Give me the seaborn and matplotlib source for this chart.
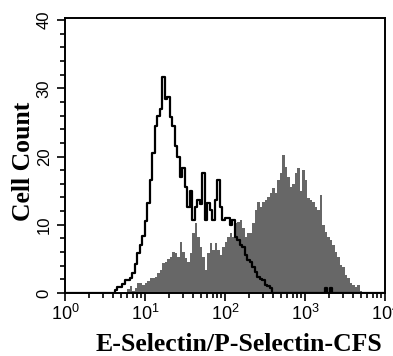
import numpy as np
import matplotlib
matplotlib.use("Agg")
import matplotlib.pyplot as plt
import matplotlib.ticker as mticker
import seaborn as sns

# histogram channels: 32 bins per decade from 10^0 to 10^4 (log10 edges)
bin_edges = np.linspace(0, 4, 129)

# isotype control (black outline), counts per bin
iso_counts = [0] * 20 + [
    0.5, 0.9, 0.9, 1.3, 1.9, 1.9, 2.2, 2.9, 4.2, 5.8,
    7.0, 8.3, 10.5, 13.2, 16.5, 20.5, 24.5, 26.0, 27.0, 31.6,
    28.5, 28.7, 25.8, 24.5, 21.5, 20.0, 17.0, 18.3, 15.5, 12.6,
    15.0, 10.7, 12.6, 13.6, 13.0, 17.6, 10.7, 13.2, 12.2, 10.7,
    13.6, 16.5, 12.6, 10.7, 11.0, 11.0, 10.0, 10.7, 8.2, 7.8,
    7.0, 6.7, 5.6, 4.8, 4.5, 3.8, 3.1, 2.3, 2.0, 1.9,
    1.2, 1.0, 0.8, 0, 0, 0, 0, 0, 0, 0,
    0, 0, 0, 0, 0, 0, 0, 0, 0, 0,
    0, 0, 0, 0, 0.8, 0, 0.8, 0, 0, 0,
] + [0] * 18

# E-Selectin/P-Selectin stained sample (grey fill)
sel_counts = [0] * 25 + [
    0.6, 1.0, 0.3, 0.8, 1.5, 1.5, 1.2, 1.5, 1.8, 2.2,
    2.2, 2.4, 3.0, 3.4, 4.4, 4.5, 5.0, 5.3, 6.0, 5.8,
    5.3, 7.5, 6.0, 5.1, 4.5, 5.8, 8.8, 10.2, 8.2, 6.7,
    5.3, 3.4, 5.8, 7.3, 6.3, 7.3, 6.3, 5.6, 6.7, 7.5,
    8.2, 8.8, 8.2, 10.2, 10.4, 10.7, 9.5, 8.2, 8.8, 8.8,
    10.2, 12.2, 13.3, 12.6, 13.3, 13.6, 14.0, 14.6, 15.4, 14.6,
    16.5, 17.6, 20.2, 18.5, 17.0, 15.5, 16.0, 17.6, 18.3, 15.0,
    18.0, 16.5, 13.9, 13.6, 13.3, 12.6, 12.2, 14.3, 10.0, 9.0,
    8.2, 7.8, 7.0, 6.0, 5.3, 4.1, 3.8, 2.7, 2.2, 1.5,
    1.2, 0.9, 1.2, 0.3,
] + [0] * 9

centers = 10 ** ((bin_edges[:-1] + bin_edges[1:]) / 2)

fig = plt.figure(figsize=(3.93, 3.56), dpi=100)
ax = fig.add_axes([0.1654, 0.177, 0.8142, 0.7725])

sns.histplot(x=centers, weights=sel_counts, binwidth=1 / 32, binrange=(0, 4),
             log_scale=True, element="step", fill=True, color="#676767",
             alpha=1, linewidth=0, ax=ax)
sns.histplot(x=centers, weights=iso_counts, binwidth=1 / 32, binrange=(0, 4),
             log_scale=True, element="step", fill=False, color="black",
             linewidth=1.6, ax=ax)

ax.set_xlim(1, 1e4)
ax.set_ylim(0, 40.3)
ax.xaxis.set_major_locator(mticker.LogLocator(base=10, numticks=10))
ax.xaxis.set_minor_locator(mticker.LogLocator(base=10, subs=np.arange(2, 10), numticks=20))
ax.xaxis.set_major_formatter(mticker.FuncFormatter(
    lambda v, p: r"$\mathregular{10^{%d}}$" % round(np.log10(v))))
ax.xaxis.set_minor_formatter(mticker.NullFormatter())
ax.yaxis.set_major_locator(mticker.MultipleLocator(10))
ax.yaxis.set_minor_locator(mticker.MultipleLocator(2))

for s in ax.spines.values():
    s.set_linewidth(1.4)
ax.tick_params(which="major", length=6, width=1.2)
ax.tick_params(which="minor", length=3.5, width=1.2)
ax.tick_params(axis="x", labelsize=13, pad=2)
ax.tick_params(axis="y", labelsize=12)
for lab in ax.get_xticklabels() + ax.get_yticklabels():
    lab.set_family("Liberation Sans")
plt.setp(ax.get_yticklabels(), rotation=90, va="center")

ax.set_xlabel("E-Selectin/P-Selectin-CFS", family="Liberation Serif",
              fontweight="bold", fontsize=18.5)
ax.set_ylabel("Cell Count", family="Liberation Serif",
              fontweight="bold", fontsize=18.5)
ax.xaxis.set_label_coords(0.545, -0.145)
ax.yaxis.set_label_coords(-0.093, 0.48)

fig.savefig("out.png", dpi=100)
